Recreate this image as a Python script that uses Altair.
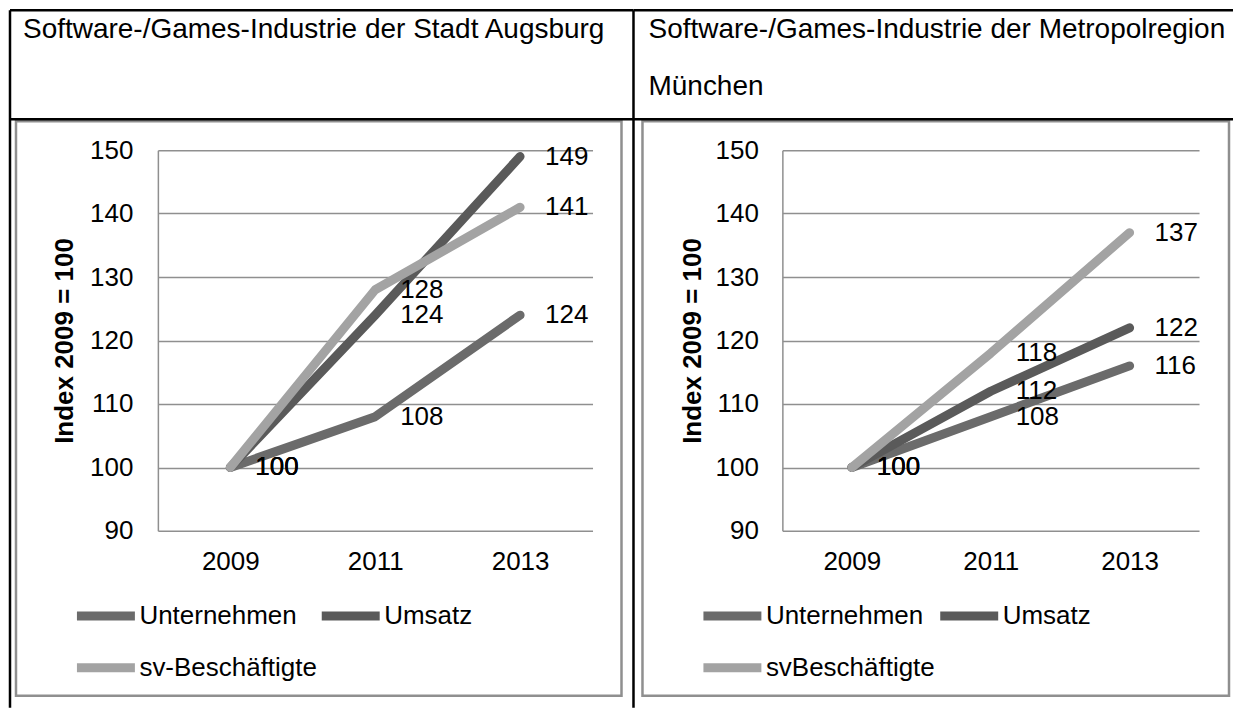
import altair as alt
import pandas as pd

# ---------------- data ----------------
years = ["2009", "2011", "2013"]
y_ticks = [90, 100, 110, 120, 130, 140, 150]

series_left = ["Unternehmen", "Umsatz", "sv-Beschäftigte"]
unternehmen_left = [100, 108, 124]
umsatz_left = [100, 124, 149]
sv_left = [100, 128, 141]

series_right = ["Unternehmen", "Umsatz", "svBeschäftigte"]
unternehmen_right = [100, 108, 116]
umsatz_right = [100, 112, 122]
sv_right = [100, 118, 137]

title_left = "Software-/Games-Industrie der Stadt Augsburg"
title_right = ["Software-/Games-Industrie der Metropolregion", "München"]
y_title = "Index 2009 = 100"

colors = ["#6b6b6b", "#5a5a5a", "#a3a3a3"]
GRID = "#8f8f8f"
FONT = "Liberation Sans"
FS = 26


def long_df(series, vals):
    rows = []
    for s, v in zip(series, vals):
        for yr, val in zip(years, v):
            rows.append({"year": yr, "series": s, "value": val})
    return pd.DataFrame(rows)


one = pd.DataFrame({"k": [0]})


def panel(series, vals, W, geo, title, title_line_height=None):
    df = long_df(series, vals)
    H = 381
    x = alt.X("year:O", scale=alt.Scale(type="point", padding=0.5, domain=years),
              axis=alt.Axis(labelAngle=0, domain=False, ticks=False, grid=False,
                            labelFontSize=FS, labelColor="black", labelPadding=18,
                            labelFont=FONT, title=None))
    y = alt.Y("value:Q", scale=alt.Scale(domain=[90, 150], nice=False, zero=False),
              axis=alt.Axis(values=y_ticks, grid=True, gridColor=GRID, gridWidth=1.5,
                            domainColor=GRID, domainWidth=1.5, ticks=False,
                            labelFontSize=FS, labelColor="black", labelPadding=geo["lp"],
                            labelFont=FONT,
                            title=y_title, titleFontSize=FS, titleFontWeight="bold",
                            titleColor="black", titleFont=FONT, titleX=geo["tx"], titleY=H / 2,
                            titleAngle=270, titleAlign="center", titleBaseline="middle"))

    base = alt.Chart(df)
    lines = base.mark_line(strokeWidth=9, strokeCap="round", strokeJoin="round").encode(
        x=x, y=y,
        color=alt.Color("series:N", scale=alt.Scale(domain=series, range=colors),
                        legend=alt.Legend(orient="none", legendX=geo["lx"], legendY=432.5,
                                          direction="horizontal",
                                          columns=2, symbolType="stroke", symbolSize=3364,
                                          symbolStrokeWidth=9, labelFontSize=FS,
                                          labelFont=FONT, labelColor="black", labelOffset=0,
                                          columnPadding=-14, rowPadding=-23, title=None,
                                          padding=0, labelLimit=0)),
        order=alt.Order("series:N"),
    )
    labels = base.mark_text(align="left", baseline="middle", dx=25, fontSize=FS,
                            font=FONT, color="black").encode(
        x=alt.X("year:O", scale=alt.Scale(type="point", padding=0.5, domain=years)),
        y=alt.Y("value:Q", scale=alt.Scale(domain=[90, 150], nice=False, zero=False)),
        text="value:Q",
    )

    dec = alt.Chart(one)
    frame = dec.mark_rect(fill="white", fillOpacity=0, stroke=GRID, strokeWidth=2.5).encode(
        x=alt.value(geo["fx1"]), x2=alt.value(geo["fx2"]),
        y=alt.value(-29), y2=alt.value(546))
    layers = [frame]
    # table lines
    for yy in (-140, -31):
        layers.append(dec.mark_rule(color="black", strokeWidth=2.5).encode(
            x=alt.value(geo["tx1"]), x2=alt.value(geo["tx2"]), y=alt.value(yy)))
    for xx in geo["vlines"]:
        layers.append(dec.mark_rule(color="black", strokeWidth=2.5).encode(
            x=alt.value(xx), y=alt.value(-140), y2=alt.value(558)))
    ttl = dec.mark_text(align="left", baseline="alphabetic", fontSize=28, font=FONT,
                        color="black", text=title,
                        **({"lineHeight": title_line_height} if title_line_height else {})).encode(
        x=alt.value(geo["ttx"]), y=alt.value(-112))
    layers.append(ttl)
    layers += [lines, labels]
    return alt.layer(*layers).properties(width=W, height=H).resolve_scale(color="independent")


left = panel(series_left, [unternehmen_left, umsatz_left, sv_left], 435,
             dict(lp=25, tx=-93, lx=-85.5, fx1=-142, fx2=464, tx1=-148, tx2=476,
                  vlines=[-148, 476], ttx=-135), title_left)
right = panel(series_right, [unternehmen_right, umsatz_right, sv_right], 417,
              dict(lp=24, tx=-90, lx=-83.5, fx1=-140, fx2=447, tx1=-149, tx2=451,
                   vlines=[], ttx=-134), title_right, title_line_height=57)

chart = alt.hconcat(left, right, spacing=190, bounds="flush", padding=0).resolve_scale(
    x="independent", y="independent", color="independent"
).resolve_legend(color="independent").configure(font=FONT).configure_view(stroke=None)

chart.save("out.html", embed_options={"renderer": "svg", "actions": False})
